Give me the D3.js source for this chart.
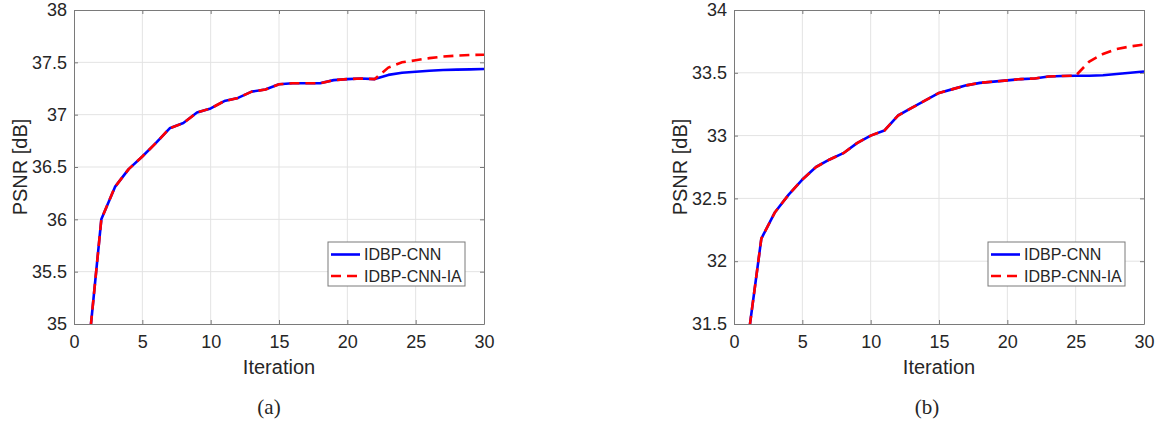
<!DOCTYPE html>
<html>
<head>
<meta charset="utf-8">
<script src="https://cdn.jsdelivr.net/npm/d3@7"></script>
<style>
    body { margin: 0; background: #fff; }
    text { font-family: "Liberation Sans", Arial, sans-serif; fill: #262626; }
    .caption { font-family: "Liberation Serif", "Times New Roman", serif; }
</style>
</head>
<body>
<div id="chart"></div>
<script>
var iterations = [1, 2, 3, 4, 5, 6, 7, 8, 9, 10, 11, 12, 13, 14, 15,
                  16, 17, 18, 19, 20, 21, 22, 23, 24, 25, 26, 27, 28, 29, 30];

var seriesNames = ['IDBP-CNN', 'IDBP-CNN-IA'];
var xTicks = [0, 5, 10, 15, 20, 25, 30];

// panel (a)
var cnnA = [34.68, 36.00, 36.31, 36.48, 36.60, 36.73, 36.87, 36.92, 37.02, 37.06,
            37.13, 37.16, 37.22, 37.24, 37.29, 37.30, 37.30, 37.30, 37.33, 37.34,
            37.345, 37.34, 37.38, 37.40, 37.41, 37.42, 37.427, 37.43, 37.433, 37.436];
var cnnIaA = [34.68, 36.00, 36.31, 36.48, 36.60, 36.73, 36.87, 36.92, 37.02, 37.06,
              37.13, 37.16, 37.22, 37.24, 37.29, 37.30, 37.30, 37.30, 37.33, 37.34,
              37.345, 37.34, 37.45, 37.50, 37.52, 37.54, 37.555, 37.564, 37.57, 37.573];
var yTicksA = [35, 35.5, 36, 36.5, 37, 37.5, 38];

// panel (b)
var cnnB = [31.36, 32.18, 32.39, 32.53, 32.65, 32.75, 32.81, 32.86, 32.94, 33.00,
            33.04, 33.16, 33.22, 33.28, 33.34, 33.37, 33.40, 33.42, 33.43, 33.44,
            33.45, 33.455, 33.47, 33.475, 33.477, 33.477, 33.48, 33.49, 33.50, 33.51];
var cnnIaB = [31.36, 32.18, 32.39, 32.53, 32.65, 32.75, 32.81, 32.86, 32.94, 33.00,
              33.04, 33.16, 33.22, 33.28, 33.34, 33.37, 33.40, 33.42, 33.43, 33.44,
              33.45, 33.455, 33.47, 33.475, 33.477, 33.59, 33.65, 33.69, 33.71, 33.725];
var yTicksB = [31.5, 32, 32.5, 33, 33.5, 34];

var W = 1156, H = 423;

var svg = d3.select('#chart')
    .append('svg')
    .attr('width', W)
    .attr('height', H);

function drawPanel(id, left, blue, red, yTicks, caption, captionX) {
    var w = 410, h = 314, top = 10;   // plot box size

    var x = d3.scaleLinear().domain([0, 30]).range([0, w]),
        y = d3.scaleLinear().domain(d3.extent(yTicks)).range([h, 0]);

    var g = svg.append('g')
        .attr('transform', 'translate(' + left + ',' + top + ')');

    g.append('clipPath')
        .attr('id', 'clip-' + id)
        .append('rect')
        .attr('width', w)
        .attr('height', h);

    // grid
    g.append('g').selectAll('line')
        .data(xTicks.slice(1, -1))
        .enter().append('line')
        .attr('x1', function (d) { return x(d); })
        .attr('x2', function (d) { return x(d); })
        .attr('y1', 0).attr('y2', h)
        .attr('stroke', '#e3e3e3');

    g.append('g').selectAll('line')
        .data(yTicks.slice(1, -1))
        .enter().append('line')
        .attr('y1', function (d) { return y(d); })
        .attr('y2', function (d) { return y(d); })
        .attr('x1', 0).attr('x2', w)
        .attr('stroke', '#e3e3e3');

    // axes: ticks inward on all four sides (box on)
    var fmt = function (d) { return d3.format('')(d); };

    var xb = g.append('g')
        .attr('transform', 'translate(0,' + h + ')')
        .call(d3.axisBottom(x).tickValues(xTicks).tickFormat(fmt).tickSizeInner(-4).tickSizeOuter(0).tickPadding(11));
    var xt = g.append('g')
        .call(d3.axisTop(x).tickValues(xTicks).tickFormat('').tickSizeInner(-4).tickSizeOuter(0));
    var yl = g.append('g')
        .call(d3.axisLeft(y).tickValues(yTicks).tickFormat(fmt).tickSizeInner(-4).tickSizeOuter(0).tickPadding(7));
    var yr = g.append('g')
        .attr('transform', 'translate(' + w + ',0)')
        .call(d3.axisRight(y).tickValues(yTicks).tickFormat('').tickSizeInner(-4).tickSizeOuter(0));

    [xb, xt, yl, yr].forEach(function (a) {
        a.select('.domain').attr('stroke', '#7a7a7a');
        a.selectAll('.tick line').attr('stroke', '#7a7a7a');
        a.selectAll('.tick text')
            .style('font-size', '18px')
            .attr('fill', '#262626');
    });

    // labels
    g.append('text')
        .attr('x', w / 2)
        .attr('y', h + 50)
        .attr('text-anchor', 'middle')
        .style('font-size', '20px')
        .text('Iteration');

    g.append('text')
        .attr('transform', 'translate(-47,' + (h / 2) + ') rotate(-90)')
        .attr('text-anchor', 'middle')
        .style('font-size', '20px')
        .text('PSNR [dB]');

    svg.append('text')
        .attr('class', 'caption')
        .attr('x', captionX)
        .attr('y', 414)
        .attr('text-anchor', 'middle')
        .style('font-size', '21px')
        .text(caption);

    // lines
    var line = d3.line()
        .x(function (d, i) { return x(iterations[i]); })
        .y(function (d) { return y(d); });

    var lines = g.append('g').attr('clip-path', 'url(#clip-' + id + ')');

    lines.append('path')
        .attr('d', line(blue))
        .attr('fill', 'none')
        .attr('stroke', '#0000ff')
        .attr('stroke-width', 2.6)
        .attr('stroke-linejoin', 'round');

    lines.append('path')
        .attr('d', line(red))
        .attr('fill', 'none')
        .attr('stroke', '#ff0000')
        .attr('stroke-width', 2.6)
        .attr('stroke-dasharray', '10,6');

    // legend
    var lg = g.append('g')
        .attr('transform', 'translate(' + (w - 156) + ',' + (h - 82) + ')');

    lg.append('rect')
        .attr('width', 137)
        .attr('height', 44)
        .attr('fill', '#fff')
        .attr('stroke', '#7a7a7a');

    var styles = [
        { color: '#0000ff', dash: null },
        { color: '#ff0000', dash: '10,6' }
    ];

    seriesNames.forEach(function (name, i) {
        var yy = 12.5 + i * 21.5;
        lg.append('line')
            .attr('x1', 3).attr('x2', 32)
            .attr('y1', yy).attr('y2', yy)
            .attr('stroke', styles[i].color)
            .attr('stroke-width', 2.6)
            .attr('stroke-dasharray', styles[i].dash);
        lg.append('text')
            .attr('x', 36)
            .attr('y', yy)
            .attr('dy', '0.36em')
            .style('font-size', '16px')
            .text(name);
    });
}

drawPanel('a', 74, cnnA, cnnIaA, yTicksA, '(a)', 269);
drawPanel('b', 734, cnnB, cnnIaB, yTicksB, '(b)', 927);
</script>
</body>
</html>
